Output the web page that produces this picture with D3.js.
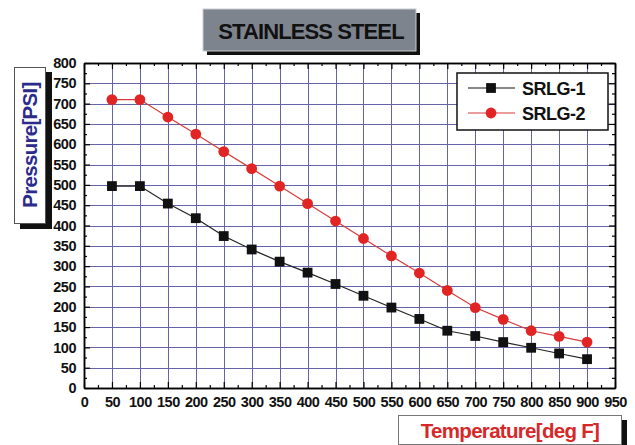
<!DOCTYPE html>
<html>
<head>
<meta charset="utf-8">
<script src="https://cdn.jsdelivr.net/npm/d3@7"></script>
<style>
  body { margin: 0; background: #fff; }
  svg { display: block; font-family: "Liberation Sans", Arial, sans-serif; }
</style>
</head>
<body>
<svg id="chart" width="635" height="445"></svg>
<script>
// data
var temps = [50, 100, 150, 200, 250, 300, 350, 400, 450, 500, 550, 600, 650, 700, 750, 800, 850, 900];
var srlg1 = [497, 497, 454, 418, 374, 341, 311, 284, 256, 227, 198, 170, 141, 128, 113, 99, 85, 71];
var srlg2 = [710, 710, 667, 625, 582, 540, 497, 454, 411, 368, 325, 283, 240, 198, 169, 141, 127, 113];
var xTicks = d3.range(0, 951, 50);
var yTicks = d3.range(0, 801, 50);
var seriesNames = ["SRLG-1", "SRLG-2"];

var svg = d3.select("#chart");
var plot = { left: 84, right: 615, top: 63, bottom: 388 };

var x = d3.scaleLinear().domain([0, 950]).range([plot.left, plot.right]);
var y = d3.scaleLinear().domain([0, 800]).range([plot.bottom, plot.top]);

// grid
var grid = svg.append("g").attr("stroke", "#6464aa").attr("stroke-width", 1);
grid.selectAll("line.v").data(xTicks.filter(function (d) { return d > 0 && d < 950; }))
  .enter().append("line")
  .attr("x1", function (d) { return Math.round(x(d)) + 0.5; })
  .attr("x2", function (d) { return Math.round(x(d)) + 0.5; })
  .attr("y1", plot.top).attr("y2", plot.bottom);
grid.selectAll("line.h").data(yTicks.filter(function (d) { return d > 0 && d < 800; }))
  .enter().append("line")
  .attr("y1", function (d) { return Math.round(y(d)) + 0.5; })
  .attr("y2", function (d) { return Math.round(y(d)) + 0.5; })
  .attr("x1", plot.left).attr("x2", plot.right);

// axes: major ticks every 50, minor every 25, all inward
function addAxis(axis, transform) {
  var g = svg.append("g").attr("transform", transform).call(axis);
  g.select(".domain").attr("stroke", "#000").attr("stroke-width", 1.5);
  g.selectAll(".tick line").attr("stroke", "#000").attr("stroke-width", 1.2);
  return g;
}
var minorX = d3.range(25, 950, 50);
var minorY = d3.range(25, 800, 50);

var axBottom = addAxis(d3.axisBottom(x).tickValues(xTicks).tickSizeInner(-6).tickSizeOuter(0).tickPadding(9),
  "translate(0," + plot.bottom + ")");
axBottom.selectAll("text").attr("font-size", 14.5).attr("font-weight", "bold").attr("fill", "#111").attr("letter-spacing", -0.5);
addAxis(d3.axisBottom(x).tickValues(minorX).tickSizeInner(-3).tickSizeOuter(0).tickFormat(""), "translate(0," + plot.bottom + ")");

var axLeft = addAxis(d3.axisLeft(y).tickValues(yTicks).tickSizeInner(-6).tickSizeOuter(0).tickPadding(8),
  "translate(" + plot.left + ",0)");
axLeft.selectAll("text").attr("font-size", 14.5).attr("font-weight", "bold").attr("fill", "#111").attr("letter-spacing", -0.5);
addAxis(d3.axisLeft(y).tickValues(minorY).tickSizeInner(-3).tickSizeOuter(0).tickFormat(""), "translate(" + plot.left + ",0)");

addAxis(d3.axisTop(x).tickValues(xTicks).tickSizeInner(-6).tickSizeOuter(0).tickFormat(""), "translate(0," + plot.top + ")");
addAxis(d3.axisTop(x).tickValues(minorX).tickSizeInner(-3).tickSizeOuter(0).tickFormat(""), "translate(0," + plot.top + ")");
addAxis(d3.axisRight(y).tickValues(yTicks).tickSizeInner(-6).tickSizeOuter(0).tickFormat(""), "translate(" + plot.right + ",0)");
addAxis(d3.axisRight(y).tickValues(minorY).tickSizeInner(-3).tickSizeOuter(0).tickFormat(""), "translate(" + plot.right + ",0)");

// series
var line = d3.line().x(function (d) { return x(d[0]); }).y(function (d) { return y(d[1]); });
var pts1 = temps.map(function (t, i) { return [t, srlg1[i]]; });
var pts2 = temps.map(function (t, i) { return [t, srlg2[i]]; });

svg.append("path").datum(pts2).attr("d", line).attr("fill", "none").attr("stroke", "#d83a3a").attr("stroke-width", 1.2);
svg.append("path").datum(pts1).attr("d", line).attr("fill", "none").attr("stroke", "#222").attr("stroke-width", 1.2);

svg.append("g").selectAll("circle").data(pts2).enter().append("circle")
  .attr("cx", function (d) { return x(d[0]); })
  .attr("cy", function (d) { return y(d[1]); })
  .attr("r", 5.4).attr("fill", "#e12424");
svg.append("g").selectAll("rect").data(pts1).enter().append("rect")
  .attr("x", function (d) { return x(d[0]) - 4.9; })
  .attr("y", function (d) { return y(d[1]) - 4.9; })
  .attr("width", 9.8).attr("height", 9.8).attr("fill", "#111");

// legend
var lg = svg.append("g");
lg.append("rect").attr("x", 457).attr("y", 73).attr("width", 151).attr("height", 57)
  .attr("fill", "#fff").attr("stroke", "#111").attr("stroke-width", 1.5);
seriesNames.forEach(function (name, i) {
  var ly = 88 + i * 25;
  var col = i === 0 ? "#111" : "#d83a3a";
  lg.append("line").attr("x1", 468).attr("x2", 515).attr("y1", ly).attr("y2", ly)
    .attr("stroke", col).attr("stroke-width", 1.2);
  if (i === 0) {
    lg.append("rect").attr("x", 491 - 4.9).attr("y", ly - 4.9).attr("width", 9.8).attr("height", 9.8).attr("fill", "#111");
  } else {
    lg.append("circle").attr("cx", 491).attr("cy", ly).attr("r", 5.4).attr("fill", "#e12424");
  }
  lg.append("text").attr("x", 522).attr("y", ly + 6.5).attr("font-size", 18).attr("font-weight", "bold")
    .attr("fill", "#111").attr("letter-spacing", -0.5).text(name);
});

// title box
var tb = svg.append("g");
tb.append("rect").attr("x", 207).attr("y", 13).attr("width", 213).attr("height", 42).attr("fill", "#111");
tb.append("rect").attr("x", 203).attr("y", 9).attr("width", 213).attr("height", 42).attr("fill", "#7e848e")
  .attr("stroke", "#c9ccd2").attr("stroke-width", 1);
tb.append("text").attr("x", 311).attr("y", 39).attr("text-anchor", "middle").attr("font-size", 22)
  .attr("font-weight", "bold").attr("fill", "#111").attr("letter-spacing", -0.9).text("STAINLESS STEEL");

// y label box
var yb = svg.append("g");
yb.append("rect").attr("x", 20).attr("y", 72).attr("width", 32).attr("height", 157).attr("fill", "#111");
yb.append("rect").attr("x", 14.5).attr("y", 67.5).attr("width", 31).attr("height", 156).attr("fill", "#fff")
  .attr("stroke", "#555").attr("stroke-width", 1);
yb.append("text").attr("transform", "translate(37,145) rotate(-90)").attr("text-anchor", "middle")
  .attr("font-size", 20.5).attr("font-weight", "bold").attr("fill", "#2b2b8c").attr("letter-spacing", -0.7)
  .text("Pressure[PSI]");

// x label box
var xb = svg.append("g");
xb.append("rect").attr("x", 403).attr("y", 420).attr("width", 224).attr("height", 30).attr("fill", "#111");
xb.append("rect").attr("x", 398.5).attr("y", 415.5).attr("width", 223).attr("height", 29).attr("fill", "#fff")
  .attr("stroke", "#777").attr("stroke-width", 1);
xb.append("text").attr("x", 510).attr("y", 437.5).attr("text-anchor", "middle").attr("font-size", 20.5)
  .attr("font-weight", "bold").attr("fill", "#d62828").attr("letter-spacing", -0.7).text("Temperature[deg F]");
</script>
</body>
</html>
